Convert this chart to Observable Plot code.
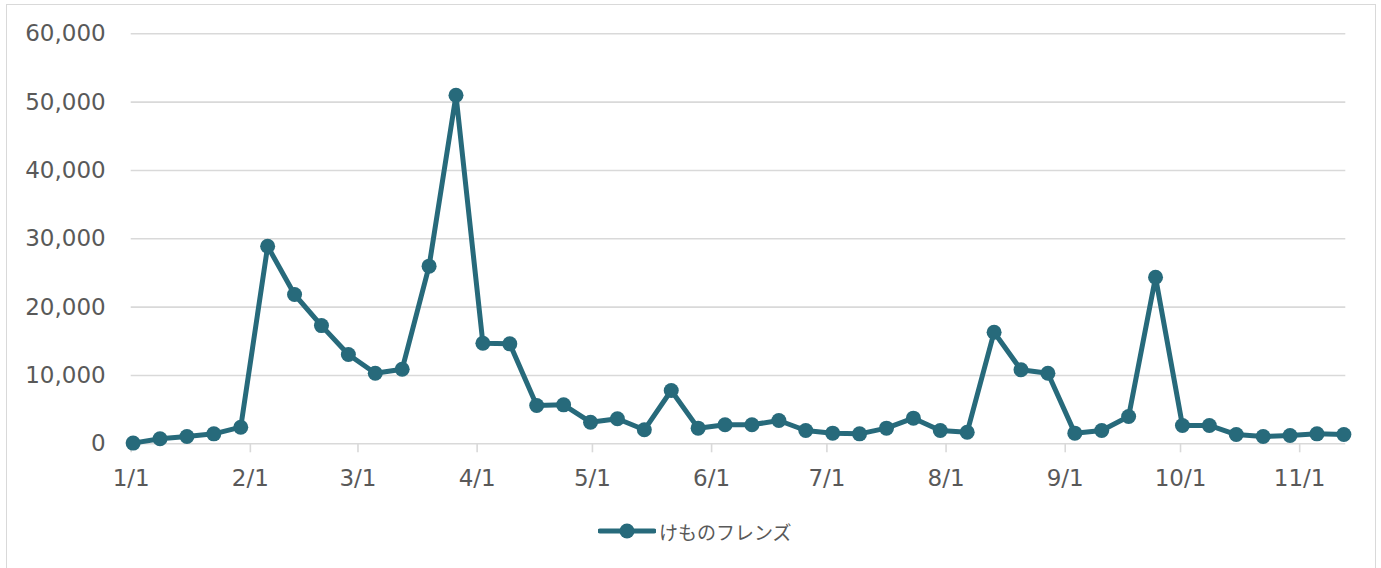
<!DOCTYPE html>
<html><head><meta charset="utf-8">
<script src="https://cdn.jsdelivr.net/npm/d3@7"></script>
<script src="https://cdn.jsdelivr.net/npm/@observablehq/plot@0.6"></script>
<style>
html,body{margin:0;padding:0;background:#fff;width:1381px;height:568px;overflow:hidden;position:relative}
#frame{position:absolute;left:6px;top:4px;width:1370px;height:620px;border:1.5px solid #d9d9d9;box-sizing:border-box}
#chart{position:absolute;left:0;top:0}
#legend{position:absolute;left:598px;top:516px;height:30px;display:flex;align-items:center;font-family:"Noto Sans CJK JP",sans-serif;font-size:19px;color:#595959}
#legend svg{display:block;margin-right:3px}
</style></head>
<body>
<div id="frame"></div>
<div id="chart"></div>
<div id="legend"></div>
<script>
const seriesName = "けものフレンズ";
const weekDates = [
  "2017-01-01","2017-01-08","2017-01-15","2017-01-22","2017-01-29",
  "2017-02-05","2017-02-12","2017-02-19","2017-02-26",
  "2017-03-05","2017-03-12","2017-03-19","2017-03-26",
  "2017-04-02","2017-04-09","2017-04-16","2017-04-23","2017-04-30",
  "2017-05-07","2017-05-14","2017-05-21","2017-05-28",
  "2017-06-04","2017-06-11","2017-06-18","2017-06-25",
  "2017-07-02","2017-07-09","2017-07-16","2017-07-23","2017-07-30",
  "2017-08-06","2017-08-13","2017-08-20","2017-08-27",
  "2017-09-03","2017-09-10","2017-09-17","2017-09-24",
  "2017-10-01","2017-10-08","2017-10-15","2017-10-22","2017-10-29",
  "2017-11-05","2017-11-12"
];
const weeklyValues = [
  100, 730, 1070, 1460, 2430,
  28900, 21850, 17300, 13070,
  10330, 10920, 26000, 51000,
  14720, 14630, 5600, 5700, 3160,
  3660, 2050, 7800, 2290,
  2780, 2780, 3410, 1950,
  1560, 1460, 2290, 3750, 1950,
  1700, 16330, 10830, 10330,
  1560, 1950, 4000, 24380,
  2680, 2680, 1360, 1070, 1210,
  1460, 1360
];
const xTickDates = ["2017-01-01","2017-02-01","2017-03-01","2017-04-01","2017-05-01","2017-06-01",
  "2017-07-01","2017-08-01","2017-09-01","2017-10-01","2017-11-01"];
const yTickValues = [0, 10000, 20000, 30000, 40000, 50000, 60000];

const lineColor = "#276a7b";
const data = weekDates.map((d, i) => ({date: new Date(d + "T12:00:00Z"), value: weeklyValues[i]}));
const xTicks = xTickDates.map(d => new Date(d + "T00:00:00Z"));

const chart = Plot.plot({
  width: 1381, height: 510,
  marginLeft: 130.7, marginRight: 35.7, marginTop: 33.3, marginBottom: 66.7,
  style: {fontFamily: "DejaVu Sans", fontSize: "23px", color: "#595959", background: "transparent"},
  x: {type: "utc", domain: [new Date("2017-01-01T00:00:00Z"), new Date("2017-11-13T00:00:00Z")], label: null},
  y: {domain: [0, 60000], label: null},
  marks: [
    Plot.gridY(yTickValues, {stroke: "#d9d9d9", strokeOpacity: 1, strokeWidth: 1.6}),
    Plot.axisY(yTickValues, {tickSize: 0, tickPadding: 25.5, tickFormat: d3.format(","), fill: "#595959", label: null}),
    Plot.axisX(xTicks, {tickSize: 9, tickPadding: 17, stroke: "#d9d9d9", strokeWidth: 1.6, strokeOpacity: 1, fill: "#595959",
      tickFormat: d => `${d.getUTCMonth() + 1}/${d.getUTCDate()}`, label: null}),
    Plot.line(data, {x: "date", y: "value", stroke: lineColor, strokeWidth: 5, strokeLinejoin: "round"}),
    Plot.dot(data, {x: "date", y: "value", r: 7.5, fill: lineColor, stroke: "none"})
  ]
});
document.getElementById("chart").appendChild(chart);

const legend = document.getElementById("legend");
legend.innerHTML = `<svg width="58" height="20"><line x1="2" y1="10" x2="56" y2="10" stroke="${lineColor}" stroke-width="5" stroke-linecap="round"/><circle cx="29" cy="10" r="7.5" fill="${lineColor}"/></svg><span>${seriesName}</span>`;
</script>
</body></html>
